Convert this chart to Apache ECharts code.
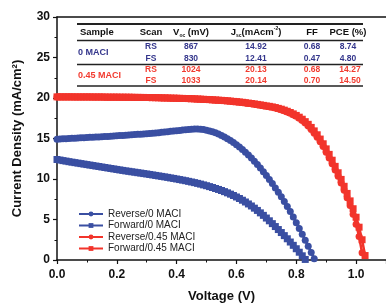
<!DOCTYPE html>
<html>
<head>
<meta charset="utf-8">
<script src="https://cdn.jsdelivr.net/npm/echarts@6/dist/echarts.min.js"></script>
<style>
    html, body { margin: 0; padding: 0; background: #fff; }
    #chart { width: 386px; height: 308px; }
</style>
</head>
<body>
<div id="chart"></div>
<script>
const chart = echarts.init(document.getElementById("chart"));

// voltage sweep (V), 10 mV steps
const voltage = [
    0.00, 0.01, 0.02, 0.03, 0.04, 0.05, 0.06, 0.07, 0.08, 0.09,
    0.10, 0.11, 0.12, 0.13, 0.14, 0.15, 0.16, 0.17, 0.18, 0.19,
    0.20, 0.21, 0.22, 0.23, 0.24, 0.25, 0.26, 0.27, 0.28, 0.29,
    0.30, 0.31, 0.32, 0.33, 0.34, 0.35, 0.36, 0.37, 0.38, 0.39,
    0.40, 0.41, 0.42, 0.43, 0.44, 0.45, 0.46, 0.47, 0.48, 0.49,
    0.50, 0.51, 0.52, 0.53, 0.54, 0.55, 0.56, 0.57, 0.58, 0.59,
    0.60, 0.61, 0.62, 0.63, 0.64, 0.65, 0.66, 0.67, 0.68, 0.69,
    0.70, 0.71, 0.72, 0.73, 0.74, 0.75, 0.76, 0.77, 0.78, 0.79,
    0.80, 0.81, 0.82, 0.83, 0.84, 0.85, 0.86, 0.87, 0.88, 0.89,
    0.90, 0.91, 0.92, 0.93, 0.94, 0.95, 0.96, 0.97, 0.98, 0.99,
    1.00, 1.01, 1.02, 1.03
];

// current density (mA/cm2)
const reverse0 = [
    14.92, 14.94, 14.96, 14.98, 15.00, 15.02, 15.04, 15.06, 15.08, 15.10,
    15.12, 15.14, 15.16, 15.18, 15.20, 15.22, 15.24, 15.26, 15.28, 15.31,
    15.33, 15.36, 15.38, 15.41, 15.44, 15.46, 15.49, 15.51, 15.54, 15.57,
    15.60, 15.63, 15.66, 15.69, 15.72, 15.76, 15.80, 15.84, 15.88, 15.92,
    15.96, 16.00, 16.04, 16.08, 16.11, 16.14, 16.16, 16.16, 16.14, 16.10,
    16.03, 15.94, 15.83, 15.70, 15.55, 15.38, 15.19, 14.98, 14.75, 14.50,
    14.23, 13.94, 13.63, 13.30, 12.95, 12.58, 12.19, 11.78, 11.35, 10.90,
    10.43, 9.94, 9.43, 8.90, 8.36, 7.80, 7.22, 6.62, 6.00, 5.30,
    4.60, 3.90, 3.18, 2.45, 1.70, 0.93, 0.15
];

const forward0 = [
    12.41, 12.34, 12.27, 12.21, 12.14, 12.08, 12.02, 11.96, 11.90, 11.84,
    11.78, 11.72, 11.66, 11.60, 11.54, 11.48, 11.42, 11.36, 11.30, 11.24,
    11.18, 11.12, 11.06, 11.00, 10.95, 10.89, 10.84, 10.78, 10.73, 10.67,
    10.62, 10.56, 10.50, 10.44, 10.38, 10.32, 10.26, 10.20, 10.13, 10.07,
    10.00, 9.93, 9.86, 9.79, 9.71, 9.63, 9.55, 9.46, 9.37, 9.27,
    9.17, 9.06, 8.95, 8.83, 8.71, 8.58, 8.44, 8.29, 8.13, 7.96,
    7.78, 7.59, 7.38, 7.16, 6.92, 6.67, 6.40, 6.12, 5.82, 5.51,
    5.18, 4.84, 4.49, 4.13, 3.76, 3.39, 3.01, 2.62, 2.22, 1.81,
    1.39, 0.96, 0.52, 0.07
];

const reverse045 = [
    20.13, 20.13, 20.13, 20.13, 20.13, 20.12, 20.12, 20.12, 20.12, 20.12,
    20.12, 20.11, 20.11, 20.11, 20.11, 20.11, 20.10, 20.10, 20.10, 20.10,
    20.10, 20.09, 20.09, 20.09, 20.08, 20.08, 20.07, 20.07, 20.06, 20.06,
    20.05, 20.04, 20.04, 20.03, 20.02, 20.01, 20.00, 19.99, 19.98, 19.97,
    19.96, 19.95, 19.94, 19.93, 19.91, 19.90, 19.88, 19.86, 19.84, 19.82,
    19.80, 19.78, 19.76, 19.73, 19.71, 19.68, 19.65, 19.62, 19.59, 19.55,
    19.51, 19.47, 19.43, 19.38, 19.33, 19.28, 19.22, 19.16, 19.10, 19.04,
    18.98, 18.92, 18.85, 18.76, 18.66, 18.55, 18.42, 18.28, 18.12, 17.94,
    17.74, 17.50, 17.22, 16.90, 16.54, 16.12, 15.66, 15.15, 14.60, 14.00,
    13.30, 12.60, 11.88, 11.12, 10.33, 9.50, 8.62, 7.70, 6.72, 5.65,
    4.40, 2.90, 0.90
];

const forward045 = [
    20.14, 20.14, 20.14, 20.14, 20.14, 20.14, 20.13, 20.13, 20.13, 20.13,
    20.13, 20.13, 20.12, 20.12, 20.12, 20.12, 20.12, 20.11, 20.11, 20.11,
    20.11, 20.10, 20.10, 20.10, 20.09, 20.09, 20.08, 20.08, 20.07, 20.07,
    20.06, 20.06, 20.05, 20.04, 20.03, 20.02, 20.01, 20.00, 19.99, 19.98,
    19.97, 19.96, 19.95, 19.94, 19.93, 19.91, 19.90, 19.88, 19.86, 19.84,
    19.82, 19.80, 19.78, 19.76, 19.73, 19.71, 19.68, 19.65, 19.62, 19.58,
    19.55, 19.51, 19.47, 19.42, 19.37, 19.32, 19.27, 19.21, 19.15, 19.09,
    19.02, 18.97, 18.90, 18.82, 18.72, 18.62, 18.50, 18.36, 18.21, 18.04,
    17.85, 17.63, 17.38, 17.08, 16.75, 16.37, 15.94, 15.46, 14.93, 14.35,
    13.72, 13.04, 12.32, 11.56, 10.77, 9.95, 9.10, 8.22, 7.30, 6.33,
    5.28, 4.05, 2.50, 0.55
];

const seriesNames = ["Reverse/0 MACI", "Forward/0 MACI", "Reverse/0.45 MACI", "Forward/0.45 MACI"];

// inset table
const tableHeader = ["Sample", "Scan", "Voc (mV)", "Jsc(mAcm-2)", "FF", "PCE (%)"];
const sampleNames = ["0 MACI", "0.45 MACI"];
const scans = ["RS", "FS", "RS", "FS"];
const vocValues = ["867", "830", "1024", "1033"];
const jscValues = ["14.92", "12.41", "20.13", "20.14"];
const ffValues = ["0.68", "0.47", "0.68", "0.70"];
const pceValues = ["8.74", "4.80", "14.27", "14.50"];

const BLUE = "#3a4fa2";
const RED = "#f2342b";
const TBLUE = "#34368c";
const TRED = "#f23a2f";
const FONT = "'Liberation Sans', Arial, sans-serif";

function pairs(ys) {
    return ys.map((y, i) => [voltage[i], y]);
}

function makeSeries(name, ys, color, symbol) {
    return {
        name: name,
        type: "line",
        data: pairs(ys),
        symbol: symbol,
        symbolSize: 7,
        showAllSymbol: true,
        animation: false,
        lineStyle: { color: color, width: 2.5 },
        itemStyle: { color: color },
        emphasis: { disabled: true }
    };
}

// table graphics
const colX = [97, 151, 191, 256, 312, 348];
const rowY = [47, 58.5, 70, 81];
const tableLines = [
    { y: 24, w: 2 },
    { y: 40.5, w: 1.5 },
    { y: 64.5, w: 1.5 },
    { y: 86, w: 1.5 }
];

function cellText(x, y, text, color, size, align) {
    return {
        type: "text",
        x: x,
        y: y,
        silent: true,
        style: {
            text: text,
            fill: color,
            font: "bold " + size + "px " + FONT,
            align: align || "center",
            verticalAlign: "middle"
        }
    };
}

function richHeader(x, y, main, sub, tail, sup, tail2) {
    return {
        type: "text",
        x: x,
        y: y,
        silent: true,
        style: {
            text: "{m|" + main + "}{s|" + sub + "}{m|" + tail + "}" + (sup ? "{p|" + sup + "}{m|" + tail2 + "}" : ""),
            align: "center",
            verticalAlign: "middle",
            rich: {
                m: { font: "bold 9.5px " + FONT, fill: "#111", lineHeight: 12 },
                s: { font: "bold 5px " + FONT, fill: "#111", lineHeight: 12, verticalAlign: "bottom", padding: [5, 0, 0, 0] },
                p: { font: "bold 5px " + FONT, fill: "#111", lineHeight: 12, verticalAlign: "top", padding: [0, 0, 5, 0] }
            }
        }
    };
}

const graphics = [];
tableLines.forEach(l => {
    graphics.push({
        type: "line",
        silent: true,
        shape: { x1: 77, y1: l.y, x2: 363, y2: l.y },
        style: { stroke: "#222", lineWidth: l.w }
    });
});
graphics.push(cellText(80, 32.5, tableHeader[0], "#111", 9.5, "left"));
graphics.push(cellText(colX[1], 32.5, tableHeader[1], "#111", 9.5));
graphics.push(richHeader(colX[2], 32.5, "V", "oc", " (mV)"));
graphics.push(richHeader(colX[3], 32.5, "J", "sc", "(mAcm", "-2", ")"));
graphics.push(cellText(colX[4], 32.5, tableHeader[4], "#111", 9.5));
graphics.push(cellText(colX[5], 32.5, tableHeader[5], "#111", 9.5));
graphics.push(cellText(78, 53, sampleNames[0], TBLUE, 9, "left"));
graphics.push(cellText(78, 75.5, sampleNames[1], TRED, 9, "left"));
for (let r = 0; r < 4; r++) {
    const c = r < 2 ? TBLUE : TRED;
    graphics.push(cellText(colX[1], rowY[r], scans[r], c, 8.5));
    graphics.push(cellText(colX[2], rowY[r], vocValues[r], c, 8.5));
    graphics.push(cellText(colX[3], rowY[r], jscValues[r], c, 8.5));
    graphics.push(cellText(colX[4], rowY[r], ffValues[r], c, 8.5));
    graphics.push(cellText(colX[5] + (r < 2 ? 0 : 2), rowY[r], pceValues[r], c, 8.5));
}

const axisText = { color: "#111", fontFamily: FONT, fontWeight: "bold", fontSize: 12 };

const option = {
    animation: false,
    grid: { left: 57, right: -3, top: 17, bottom: 45 },
    legend: {
        orient: "vertical",
        left: 73,
        top: 204,
        itemWidth: 24,
        itemHeight: 6,
        itemGap: 1.5,
        selectedMode: false,
        data: seriesNames,
        textStyle: { fontFamily: FONT, fontSize: 10, color: "#222" }
    },
    xAxis: [
        {
            type: "value",
            min: 0,
            max: 1.1,
            interval: 0.2,
            name: "Voltage (V)",
            nameLocation: "middle",
            nameGap: 30,
            nameTextStyle: { color: "#111", fontFamily: FONT, fontWeight: "bold", fontSize: 13 },
            axisLine: { lineStyle: { color: "#111", width: 1.5 } },
            axisTick: { length: 4, lineStyle: { color: "#111", width: 1.2 } },
            minorTick: { show: true, splitNumber: 2, length: 2.5, lineStyle: { color: "#111", width: 1 } },
            splitLine: { show: false },
            axisLabel: Object.assign({ margin: 9, showMaxLabel: false, formatter: v => v.toFixed(1) }, axisText)
        },
        {
            type: "value",
            position: "top",
            min: 0,
            max: 1.1,
            axisLine: { show: true, lineStyle: { color: "#111", width: 1.5 } },
            axisTick: { show: false },
            axisLabel: { show: false },
            splitLine: { show: false }
        }
    ],
    yAxis: {
        type: "value",
        min: 0,
        max: 30,
        interval: 5,
        name: "Current Density (mA/cm²)",
        nameLocation: "middle",
        nameGap: 33,
        nameTextStyle: { color: "#111", fontFamily: FONT, fontWeight: "bold", fontSize: 13 },
        axisLine: { show: true, lineStyle: { color: "#111", width: 1.5 } },
        axisTick: { length: 4, lineStyle: { color: "#111", width: 1.2 } },
        minorTick: { show: true, splitNumber: 2, length: 2.5, lineStyle: { color: "#111", width: 1 } },
        splitLine: { show: false },
        axisLabel: Object.assign({ margin: 7 }, axisText)
    },
    series: [
        makeSeries(seriesNames[0], reverse0, BLUE, "circle"),
        makeSeries(seriesNames[1], forward0, BLUE, "rect"),
        makeSeries(seriesNames[2], reverse045, RED, "circle"),
        makeSeries(seriesNames[3], forward045, RED, "rect")
    ],
    graphic: graphics
};

chart.setOption(option);
</script>
</body>
</html>
